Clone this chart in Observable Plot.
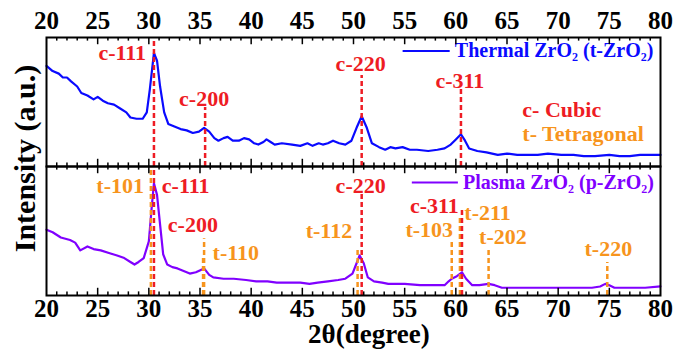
<!DOCTYPE html>
<html>
<head>
<meta charset="utf-8">
<script src="https://cdn.jsdelivr.net/npm/d3@7"></script>
<script src="https://cdn.jsdelivr.net/npm/@observablehq/plot@0.6"></script>
<style>
  html, body { margin: 0; padding: 0; background: #fff; }
  #chart { width: 690px; height: 353px; }
</style>
</head>
<body>
<div id="chart"></div>
<script>
// ---- Data ----
const panels = ["top", "bottom"];

const thermalTheta = [20.0,20.6,21.2,21.6,22.0,22.4,23.0,23.4,24.0,24.6,25.0,25.5,26.0,26.6,27.2,27.8,28.2,28.8,29.4,29.8,30.1,30.5,30.8,31.1,31.5,31.9,32.5,33.1,33.7,34.3,34.9,35.4,35.9,36.4,36.8,37.3,37.7,38.2,38.8,39.3,39.8,40.3,40.7,41.2,41.5,41.9,42.3,43.0,44.0,44.8,45.5,46.0,46.6,47.0,47.5,48.0,48.6,49.2,49.8,50.3,50.8,51.3,51.8,52.5,53.1,53.6,54.1,54.8,55.5,56.2,57.3,58.2,58.9,59.5,60.0,60.5,60.9,61.3,62.1,63.0,64.1,65.0,66.0,67.0,68.0,69.0,70.3,71.5,72.5,73.6,75.0,76.0,77.0,78.0,79.0,80.0];
const thermalInt = [78,74,72,69,69,66,62,57,55,52,54,51,49,48,45,42,38,37,37,42,60,88,82,62,42,33,31,29,28,26,27,30,27,22,20,22,23,20,20,22,21,18,17,19,21,19,17,18,17,16,18,16,18,17,18,20,18,17,20,30,39,30,18,15,13,15,14,15,13,13,12,13,14,17,21,25,20,14,12,11,9,10,9,9,9,10,9,9,8,8,9,8,8,9,9,9];

const plasmaTheta = [20.0,20.6,21.4,22.3,22.8,23.3,24.0,24.6,25.3,26.1,26.9,27.6,28.2,28.6,29.0,29.5,30.0,30.3,30.5,30.8,31.1,31.4,31.8,32.3,32.8,33.4,34.0,34.6,35.4,35.9,36.3,37.3,38.3,39.5,40.5,41.6,42.5,43.5,44.8,45.7,46.5,47.5,48.5,49.2,49.9,50.3,50.6,51.0,51.4,52.0,52.8,53.4,55.0,56.5,57.3,58.2,58.9,59.3,59.6,60.1,60.6,61.0,61.6,62.3,63.2,63.8,64.5,66.0,68.0,70.0,71.5,73.3,74.1,74.6,75.0,75.5,77.0,78.5,80.0];
const plasmaInt = [51,49,45,43,41,35,38,36,35,33,31,29,26,24,26,29,42,70,87,78,55,32,24,22,21,19,17,18,21,16,14,13,13,12,11,11,10,10,10,9,10,11,12,13,17,25,31,25,14,11,10,9,9,8,8,8,8,11,13,15,18,13,8,8,9,8,6,6,6,6,6,6,7,9,8,6,6,6,7];

// dashed reference lines (phase: c = cubic, t = tetragonal)
const peakPanel = ["top","top","top","top","bottom","bottom","bottom","bottom","bottom","bottom","bottom","bottom","bottom","bottom","bottom"];
const peakPhase = ["c","c","c","c","t","t","c","t","c","t","t","t","c","t","t"];
const peakTheta = [30.5,35.5,50.8,60.5,30.2,35.3,30.5,35.4,50.8,50.4,59.6,60.4,60.6,63.2,74.8];
const peakTop   = [100,45.7,70.5,60.5,99,30,100,44,79,36,42.6,60,68,36,25.6];

// peak labels
const labelPanel = ["top","top","top","top","bottom","bottom","bottom","bottom","bottom","bottom","bottom","bottom","bottom","bottom","bottom"];
const labelText  = ["c-111","c-200","c-220","c-311","t-101","c-111","c-200","t-110","c-220","t-112","c-311","t-103","t-211","t-202","t-220"];
const labelTheta = [27.4,35.4,50.7,60.4,27.2,33.6,34.3,38.5,50.7,47.6,57.9,57.4,63.1,64.6,74.9];
const labelInt   = [88.4,52.7,79.8,66.7,85.3,85.3,54.3,32.6,85.3,50.4,69.5,51.0,64.3,45,36.4];

// phase key
const keyText  = ["c- Cubic", "t- Tetragonal"];
const keyPhase = ["c", "t"];
const keyTheta = [66.5, 66.5];
const keyInt   = [44.2, 25.6];

// legend
const legendPanel = ["top", "bottom"];
const legendText  = ["Thermal ZrO\u2082 (t-ZrO\u2082)", "Plasma ZrO\u2082 (p-ZrO\u2082)"];
const legendLineFrom = [54.8, 55.7];
const legendLineTo   = [59.4, 60.2];
const legendTextAt   = [59.9, 60.7];
const legendInt      = [89.5, 87.6];

// axis ticks
const tickValues = [20,25,30,35,40,45,50,55,60,65,70,75,80];
const tickLabels = ["20","25","30","35","40","45","50","55","60","65","70","75","80"];
const minorStep = 1;

// ---- Colours ----
const RED = "#ee1c24", ORANGE = "#f7941d", BLUE = "#0a0aff", PURPLE = "#8000ff";
const phaseColor = p => p === "c" ? RED : ORANGE;
const FONT = "'Liberation Serif', 'Times New Roman', serif";

// ---- Tables ----
const thermal = thermalTheta.map((t, i) => ({panel: "top", x: t, y: thermalInt[i]}));
const plasma = plasmaTheta.map((t, i) => ({panel: "bottom", x: t, y: plasmaInt[i]}));
const peaks = peakTheta.map((t, i) => ({panel: peakPanel[i], x: t, top: peakTop[i], phase: peakPhase[i]}));
const labels = labelText.map((s, i) => ({panel: labelPanel[i], text: s, x: labelTheta[i], y: labelInt[i], phase: s[0]}));
const keys = keyText.map((s, i) => ({panel: "top", text: s, x: keyTheta[i], y: keyInt[i], phase: keyPhase[i]}));
const legends = legendText.map((s, i) => ({panel: legendPanel[i], text: s, x1: legendLineFrom[i], x2: legendLineTo[i], xt: legendTextAt[i], y: legendInt[i], color: i === 0 ? BLUE : PURPLE}));

const ticks = [];
for (const panel of panels) {
  for (const v of d3.range(20 + minorStep, 80, minorStep)) {
    const len = v % 5 === 0 ? 5.6 : 2.8;
    ticks.push({panel, x: v, y1: 100, y2: 100 - len});
    ticks.push({panel, x: v, y1: 0, y2: len});
  }
}
const topTickLabels = tickValues.map((v, i) => ({panel: "top", x: v, text: tickLabels[i]}));
const bottomTickLabels = tickValues.map((v, i) => ({panel: "bottom", x: v, text: tickLabels[i]}));

const chart = Plot.plot({
  width: 690,
  height: 353,
  marginTop: 37,
  marginBottom: 58,
  marginLeft: 46,
  marginRight: 30,
  x: {domain: [20, 80], axis: null},
  y: {domain: [0, 100], axis: null},
  fy: {domain: panels, axis: null, padding: 0},
  style: {fontFamily: FONT, fontWeight: "bold", background: "white", overflow: "visible"},
  marks: [
    Plot.line(thermal, {x: "x", y: "y", fy: "panel", stroke: BLUE, strokeWidth: 2.2}),
    Plot.line(plasma, {x: "x", y: "y", fy: "panel", stroke: PURPLE, strokeWidth: 2.2}),
    Plot.ruleX(peaks, {x: "x", y1: 0, y2: "top", fy: "panel", stroke: d => phaseColor(d.phase), strokeWidth: 2.5, strokeDasharray: "5,3"}),
    Plot.text(labels, {x: "x", y: "y", fy: "panel", text: "text", fill: d => phaseColor(d.phase), fontSize: 22, fontWeight: "bold"}),
    Plot.text(keys, {x: "x", y: "y", fy: "panel", text: "text", fill: d => phaseColor(d.phase), fontSize: 22, fontWeight: "bold", textAnchor: "start"}),
    Plot.link(legends, {x1: "x1", x2: "x2", y1: "y", y2: "y", fy: "panel", stroke: "color", strokeWidth: 2}),
    Plot.text(legends, {x: "xt", y: "y", fy: "panel", text: "text", fill: "color", fontSize: 20, fontWeight: "bold", textAnchor: "start"}),
    Plot.ruleX(ticks, {x: "x", y1: "y1", y2: "y2", fy: "panel", stroke: "black", strokeWidth: 1.5}),
    Plot.frame({stroke: "black", strokeWidth: 2}),
    Plot.text(topTickLabels, {x: "x", y: 100, fy: "panel", text: "text", dy: -16.5, fontSize: 25, fill: "black", fontWeight: "bold"}),
    Plot.text(bottomTickLabels, {x: "x", y: 0, fy: "panel", text: "text", dy: 13, fontSize: 25, fill: "black", fontWeight: "bold"}),
    Plot.text([{panel: "bottom"}], {x: 51.5, y: 0, fy: "panel", text: () => "2θ(degree)", dy: 39, fontSize: 27, fill: "black", fontWeight: "bold"}),
    Plot.text([{panel: "top"}], {frameAnchor: "bottom-left", textAnchor: "middle", lineAnchor: "middle", fy: "panel", text: () => "Intensity (a.u.)", rotate: -90, dx: -21, dy: -8, fontSize: 30, fill: "black", fontWeight: "bold"})
  ]
});
document.getElementById("chart").appendChild(chart);
</script>
</body>
</html>
